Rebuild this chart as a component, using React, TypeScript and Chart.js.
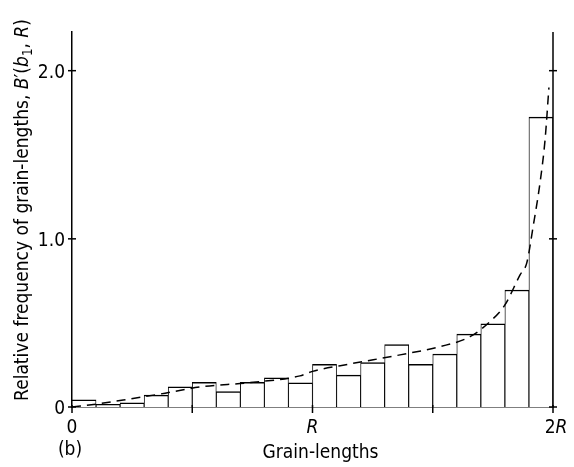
import React, { useEffect, useRef } from 'react';
import { Chart, registerables } from 'chart.js';

Chart.register(...registerables);

// ---- data (grain-length in units of R, relative frequency) ----
const binCenters = [0.05, 0.15, 0.25, 0.35, 0.45, 0.55, 0.65, 0.75, 0.85, 0.95, 1.05, 1.15, 1.25, 1.35, 1.45, 1.55, 1.65, 1.75, 1.85, 1.95];
const binHeights = [0.042, 0.016, 0.025, 0.071, 0.12, 0.147, 0.091, 0.147, 0.173, 0.143, 0.254, 0.19, 0.264, 0.371, 0.254, 0.315, 0.433, 0.494, 0.696, 1.724];
const curveX = [0, 0.104, 0.241, 0.366, 0.532, 0.74, 0.948, 1.0, 1.156, 1.364, 1.53, 1.655, 1.738, 1.8, 1.863, 1.891, 1.917, 1.946, 1.967, 1.983];
const curveY = [0, 0.018, 0.048, 0.077, 0.119, 0.145, 0.185, 0.212, 0.256, 0.31, 0.359, 0.418, 0.508, 0.607, 0.786, 0.857, 1.07, 1.333, 1.589, 1.9];
const yTicks = [0, 1, 2];
const yTickLabels = ['0', '1.0', '2.0'];
const xTicks = [0, 0.5, 1, 1.5, 2];
const xLabelValues = [0, 1, 2];
const xLabelTexts = ['0', 'R', '2R'];
const xTitle = 'Grain-lengths';
const panelLabel = '(b)';

const FAMILY = '"DejaVu Sans Condensed", "DejaVu Sans", sans-serif';
const SIZE = 19;

type Seg = { t: string; i?: boolean; sub?: boolean };

const yTitleSegs: Seg[] = [
  { t: 'Relative frequency of grain-lengths, ' },
  { t: 'B', i: true },
  { t: '\u2032(' },
  { t: 'b', i: true },
  { t: '1', sub: true },
  { t: ', ' },
  { t: 'R', i: true },
  { t: ')' },
];

function fontOf(size: number, italic?: boolean) {
  return `${italic ? 'italic ' : ''}${size}px ${FAMILY}`;
}

function italicR(text: string): Seg[] {
  return text.split('').map((c) => ({ t: c, i: c === 'R' }));
}

function drawSegs(ctx: CanvasRenderingContext2D, segs: Seg[], x: number, y: number, size: number, align: 'left' | 'center' | 'right') {
  const widths = segs.map((s) => {
    ctx.font = fontOf(s.sub ? size * 0.7 : size, s.i);
    return ctx.measureText(s.t).width;
  });
  const total = widths.reduce((a, b) => a + b, 0);
  let cur = align === 'center' ? x - total / 2 : align === 'right' ? x - total : x;
  ctx.textAlign = 'left';
  ctx.textBaseline = 'alphabetic';
  segs.forEach((s, k) => {
    ctx.font = fontOf(s.sub ? size * 0.7 : size, s.i);
    ctx.fillText(s.t, cur, y + (s.sub ? size * 0.22 : 0));
    cur += widths[k];
  });
}

const axisPlugin = {
  id: 'axisDecor',
  afterDraw(chart: any) {
    const ctx: CanvasRenderingContext2D = chart.ctx;
    const { left, right, top, bottom } = chart.chartArea;
    const xs = chart.scales.x;
    const ys = chart.scales.y;
    ctx.save();
    ctx.strokeStyle = '#000';
    ctx.fillStyle = '#000';
    ctx.lineWidth = 1.5;
    // right axis line
    ctx.beginPath();
    ctx.moveTo(right, top);
    ctx.lineTo(right, bottom);
    ctx.stroke();
    // y ticks on both axes
    yTicks.forEach((v) => {
      const py = ys.getPixelForValue(v);
      [left, right].forEach((ax) => {
        ctx.beginPath();
        ctx.moveTo(ax - 4, py);
        ctx.lineTo(ax + 4, py);
        ctx.stroke();
      });
    });
    // x ticks
    xTicks.forEach((v) => {
      const px = xs.getPixelForValue(v);
      ctx.beginPath();
      ctx.moveTo(px, bottom - 2);
      ctx.lineTo(px, bottom + 6);
      ctx.stroke();
    });
    const capH = SIZE * 0.73;
    // y tick labels
    yTicks.forEach((v, k) => {
      const py = ys.getPixelForValue(v);
      drawSegs(ctx, [{ t: yTickLabels[k] }], left - 7, py + capH / 2, SIZE, 'right');
    });
    // x tick labels
    xLabelValues.forEach((v, k) => {
      const px = xs.getPixelForValue(v);
      drawSegs(ctx, italicR(xLabelTexts[k]), px + (k === 2 ? 3 : 0), bottom + 26, SIZE, 'center');
    });
    // panel label and x title
    drawSegs(ctx, [{ t: panelLabel }], left - 2, bottom + 48, SIZE, 'center');
    drawSegs(ctx, [{ t: xTitle }], xs.getPixelForValue(1) + 8, bottom + 51, SIZE, 'center');
    // y title (rotated)
    ctx.translate(28, 210);
    ctx.rotate(-Math.PI / 2);
    drawSegs(ctx, yTitleSegs, 0, 0, SIZE, 'center');
    ctx.restore();
  },
};

export default function App() {
  const ref = useRef<HTMLCanvasElement | null>(null);
  useEffect(() => {
    if (!ref.current) return;
    const chart = new Chart(ref.current, {
      type: 'bar',
      data: {
        datasets: [
          {
            type: 'line',
            data: curveX.map((x, i) => ({ x, y: curveY[i] })),
            borderColor: '#000',
            borderWidth: 1.5,
            borderDash: [9, 6],
            pointRadius: 0,
            cubicInterpolationMode: 'monotone',
            fill: false,
            order: 0,
          } as any,
          {
            type: 'bar',
            data: binCenters.map((x, i) => ({ x, y: binHeights[i] })),
            backgroundColor: '#fff',
            borderColor: '#000',
            borderWidth: { top: 1.5, left: 0.9, right: 0.9, bottom: 0 },
            borderSkipped: false,
            barPercentage: 1,
            categoryPercentage: 1,
            order: 1,
          } as any,
        ],
      },
      options: {
        animation: false,
        responsive: false,
        layout: { padding: { top: 32, right: 21, left: 0, bottom: 0 } },
        plugins: { legend: { display: false }, tooltip: { enabled: false } },
        scales: {
          x: {
            type: 'linear',
            min: 0,
            max: 2,
            offset: false,
            grid: { display: false },
            border: { display: true, color: '#000', width: 1.5 },
            ticks: { display: false },
            afterFit: (s: any) => { s.height = 60; },
          },
          y: {
            type: 'linear',
            min: 0,
            max: 2.23,
            grid: { display: false },
            border: { display: true, color: '#000', width: 1.5 },
            ticks: { display: false },
            afterFit: (s: any) => { s.width = 72; },
          },
        },
      } as any,
      plugins: [axisPlugin],
    });
    return () => chart.destroy();
  }, []);
  return (
    <div style={{ position: 'absolute', left: 0, top: 0, width: 574, height: 467, background: '#fff' }}>
      <canvas ref={ref} width={574} height={467} style={{ display: 'block', width: 574, height: 467 }} />
    </div>
  );
}
